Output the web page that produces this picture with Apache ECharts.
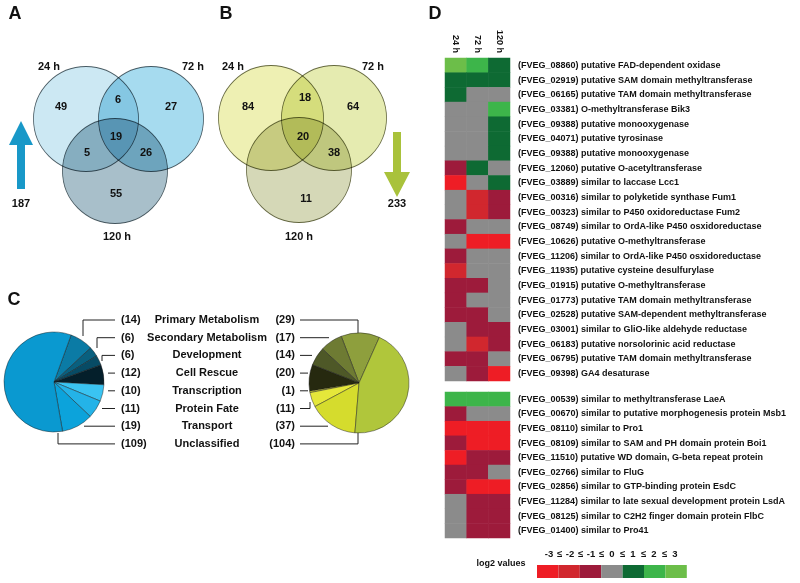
<!DOCTYPE html>
<html>
<head>
<meta charset="utf-8">
<script src="https://cdn.jsdelivr.net/npm/echarts@6/dist/echarts.min.js"></script>
<style>
html, body { margin: 0; padding: 0; background: #fff; }
#chart { width: 800px; height: 583px; }
</style>
</head>
<body>
<div id="chart"></div>
<script>
// ---- panel A / B : venn counts ----
const vennSets = ['24 h', '72 h', '120 h'];
const upRegions = ['24', '24&72', '72', '24&72&120', '24&120', '72&120', '120'];
const upCounts = [49, 6, 27, 19, 5, 26, 55];
const upTotal = 187;
const downRegions = ['24', '24&72', '72', '24&72&120', '72&120', '120'];
const downCounts = [84, 18, 64, 20, 38, 11];
const downTotal = 233;

// ---- panel C : functional categories ----
const categories = ['Primary Metabolism', 'Secondary Metabolism', 'Development', 'Cell Rescue',
    'Transcription', 'Protein Fate', 'Transport', 'Unclassified'];
const upCat = [14, 6, 6, 12, 10, 11, 19, 109];
const downCat = [29, 17, 14, 20, 1, 11, 37, 104];

// ---- panel D : heatmap ----
const timepoints = ['24 h', '72 h', '120 h'];
const smGenes = [
    '(FVEG_08860) putative FAD-dependent oxidase',
    '(FVEG_02919) putative SAM domain methyltransferase',
    '(FVEG_06165) putative TAM domain methyltransferase',
    '(FVEG_03381) O-methyltransferase Bik3',
    '(FVEG_09388) putative monooxygenase',
    '(FVEG_04071) putative tyrosinase',
    '(FVEG_09388) putative monooxygenase',
    '(FVEG_12060) putative O-acetyltransferase',
    '(FVEG_03889) similar to laccase Lcc1',
    '(FVEG_00316) similar to polyketide synthase Fum1',
    '(FVEG_00323) similar to P450 oxidoreductase Fum2',
    '(FVEG_08749) similar to OrdA-like P450 osxidoreductase',
    '(FVEG_10626) putative O-methyltransferase',
    '(FVEG_11206) similar to OrdA-like P450 osxidoreductase',
    '(FVEG_11935) putative cysteine desulfurylase',
    '(FVEG_01915) putative O-methyltransferase',
    '(FVEG_01773) putative TAM domain methyltransferase',
    '(FVEG_02528) putative SAM-dependent methyltransferase',
    '(FVEG_03001) similar to GliO-like aldehyde reductase',
    '(FVEG_06183) putative norsolorinic acid reductase',
    '(FVEG_06795) putative TAM domain methyltransferase',
    '(FVEG_09398) GA4 desaturase'
];
const smValues = [
    [3, 2, 1], [1, 1, 1], [1, 0, 0], [0, 0, 2], [0, 0, 1], [0, 0, 1], [0, 0, 1],
    [-1, 1, 0], [-3, 0, 1], [0, -2, -1], [0, -2, -1], [-1, 0, 0], [0, -3, -3],
    [-1, 0, 0], [-2, 0, 0], [-1, -1, 0], [-1, 0, 0], [-1, -1, 0], [0, -1, -1],
    [0, -2, -1], [-1, -1, 0], [0, -1, -3]
];
const devGenes = [
    '(FVEG_00539) similar to methyltransferase LaeA',
    '(FVEG_00670) similar to putative morphogenesis protein Msb1',
    '(FVEG_08110) similar to Pro1',
    '(FVEG_08109) similar to SAM and PH domain protein Boi1',
    '(FVEG_11510) putative WD domain, G-beta repeat protein',
    '(FVEG_02766) similar to FluG',
    '(FVEG_02856) similar to GTP-binding protein EsdC',
    '(FVEG_11284) similar to late sexual development protein LsdA',
    '(FVEG_08125) similar to C2H2 finger domain protein FlbC',
    '(FVEG_01400) similar to Pro41'
];
const devValues = [
    [2, 2, 2], [-1, 0, 0], [-3, -3, -3], [-1, -3, -3], [-3, -1, -1],
    [-1, -1, 0], [-1, -3, -3], [0, -1, -1], [0, -1, -1], [0, -1, -1]
];
const log2Levels = [-3, -2, -1, 0, 1, 2, 3];

// ---- styles / layout ----
const FONT = '"Liberation Sans", Arial, sans-serif';
const levelColors = ['#ee1d25', '#d1272e', '#9d1b3b', '#8b8b8b', '#0e6a33', '#3db54a', '#6cbe49'];
const upPieColors = ['#0b7ba5', '#09607f', '#074b65', '#041f2b', '#3ac4f2', '#24b3e8', '#0ca3db', '#0a99d0'];
const downPieColors = ['#8e9f3d', '#6e7b33', '#4e5827', '#26290f', '#ebec3f', '#e5e73a', '#d5dc2d', '#b0c63b'];
const vennA = {
    circles: [[86, 119], [151, 119], [115, 171]],
    colors: ['#cce8f3', '#a6dbef', '#a8bfca'],
    spots: { '24': [61, 107], '24&72': [118, 100], '72': [171, 107], '24&72&120': [116, 137],
             '24&120': [87, 153], '72&120': [146, 153], '120': [116, 194] },
    names: [[49, 67], [193, 67], [117, 237]],
    total: [21, 204]
};
const vennB = {
    circles: [[271, 118], [334, 118], [299, 170]],
    colors: ['#eef0b3', '#e5ebb0', '#d5d8b7'],
    spots: { '24': [248, 107], '24&72': [305, 98], '72': [353, 107], '24&72&120': [303, 137],
             '72&120': [334, 153], '120': [306, 199] },
    names: [[233, 67], [373, 67], [299, 237]],
    total: [397, 204]
};

function circleData(v) {
    return v.circles.map((c, i) => ({ value: c, itemStyle: { color: v.colors[i] } }));
}
function vennText(v, regions, counts, total) {
    const out = regions.map((r, i) => ({ name: String(counts[i]), value: v.spots[r] }));
    vennSets.forEach((s, i) => out.push({ name: s, value: v.names[i] }));
    out.push({ name: String(total), value: v.total });
    return out;
}
function pieData(values, colors) {
    return categories.map((c, i) => ({ name: c, value: values[i], itemStyle: { color: colors[i] } }));
}
function heatData(rows) {
    const d = [];
    rows.forEach((row, y) => row.forEach((val, x) => d.push([x, y, val])));
    return d;
}

const rowY = i => 320 + i * 17.7;
const leftLines = [
    [[115, rowY(0)], [83, rowY(0)], [83, 336]],
    [[115, rowY(1)], [97, rowY(1)], [97, 348]],
    [[115, rowY(2)], [102, rowY(2)], [102, 361]],
    [[108, rowY(3)], [115, rowY(3)]],
    [[108, rowY(4)], [115, rowY(4)]],
    [[102, rowY(5)], [115, rowY(5)]],
    [[84, rowY(6)], [115, rowY(6)]],
    [[115, rowY(7)], [58, rowY(7)], [58, 433]]
];
const rightLines = [
    [[300, rowY(0)], [358, rowY(0)], [358, 334]],
    [[300, rowY(1)], [329, rowY(1)]],
    [[300, rowY(2)], [312, rowY(2)]],
    [[300, rowY(3)], [308, rowY(3)]],
    [[300, rowY(4)], [308, rowY(4)]],
    [[300, rowY(5)], [310, rowY(5)], [310, 402]],
    [[300, rowY(6)], [328, rowY(6)]],
    [[300, rowY(7)], [358, rowY(7)], [358, 433]]
];

function txt(text, x, y, size, align) {
    return {
        type: 'text', silent: true,
        style: { text: text, x: x, y: y, fill: '#111', font: 'bold ' + size + 'px ' + FONT,
                 textAlign: align || 'center', textVerticalAlign: 'middle' }
    };
}

const graphics = [];
graphics.push(txt('A', 15, 14, 18), txt('B', 226, 14, 18), txt('C', 14, 300, 18), txt('D', 435, 14, 18));
// arrows
graphics.push({
    type: 'polygon', silent: true,
    shape: { points: [[21, 121], [33, 145], [25, 145], [25, 189], [17, 189], [17, 145], [9, 145]] },
    style: { fill: '#1898c8' }
});
graphics.push({
    type: 'polygon', silent: true,
    shape: { points: [[397, 197], [410, 172], [401, 172], [401, 132], [393, 132], [393, 172], [384, 172]] },
    style: { fill: '#a9c23b' }
});
// panel C labels + leader lines
categories.forEach((c, i) => {
    const y = rowY(i);
    graphics.push(txt(c, 207, y, 11));
    graphics.push(txt('(' + upCat[i] + ')', 121, y, 11, 'left'));
    graphics.push(txt('(' + downCat[i] + ')', 295, y, 11, 'right'));
    graphics.push({ type: 'polyline', silent: true, shape: { points: leftLines[i] },
                    style: { stroke: '#222', lineWidth: 1, fill: null } });
    graphics.push({ type: 'polyline', silent: true, shape: { points: rightLines[i] },
                    style: { stroke: '#222', lineWidth: 1, fill: null } });
});
// heatmap legend text
graphics.push(txt('log2 values', 501, 564, 9));
const legendTokens = [];
log2Levels.forEach((v, i) => {
    legendTokens.push(String(v));
    if (i < log2Levels.length - 1) legendTokens.push('\u2264');
});
legendTokens.forEach((t, i) => graphics.push(txt(t, 549 + i * 10.5, 554, 9.5)));

const chart = echarts.init(document.getElementById('chart'));
const option = {
    animation: false,
    backgroundColor: '#fff',
    grid: [
        { left: 0, top: 0, width: 800, height: 583, show: false, outerBoundsMode: 'none' },
        { left: 445, top: 58, width: 65, height: 323, show: false, outerBoundsMode: 'none' },
        { left: 445, top: 392, width: 65, height: 146, show: false, outerBoundsMode: 'none' }
    ],
    xAxis: [
        { gridIndex: 0, type: 'value', min: 0, max: 800, show: false },
        {
            gridIndex: 1, type: 'category', data: timepoints, position: 'top',
            axisLine: { show: false }, axisTick: { show: false }, splitLine: { show: false },
            axisLabel: { rotate: 90, margin: 5, fontSize: 9, fontWeight: 'bold', color: '#111', fontFamily: FONT }
        },
        { gridIndex: 2, type: 'category', data: timepoints, show: false }
    ],
    yAxis: [
        { gridIndex: 0, type: 'value', min: 0, max: 583, inverse: true, show: false },
        {
            gridIndex: 1, type: 'category', data: smGenes, inverse: true, position: 'right',
            axisLine: { show: false }, axisTick: { show: false }, splitLine: { show: false },
            axisLabel: { interval: 0, margin: 8, fontSize: 9, fontWeight: 'bold', color: '#111', fontFamily: FONT }
        },
        {
            gridIndex: 2, type: 'category', data: devGenes, inverse: true, position: 'right',
            axisLine: { show: false }, axisTick: { show: false }, splitLine: { show: false },
            axisLabel: { interval: 0, margin: 8, fontSize: 9, fontWeight: 'bold', color: '#111', fontFamily: FONT }
        }
    ],
    visualMap: {
        type: 'piecewise', seriesIndex: [5, 6],
        pieces: log2Levels.map((v, i) => ({ value: v, color: levelColors[i] })),
        orient: 'horizontal', left: 537, top: 565, padding: 0,
        itemWidth: 21.4, itemHeight: 13, itemGap: 0, itemSymbol: 'rect',
        showLabel: false, selectedMode: false, hoverLink: false
    },
    series: [
        {
            type: 'scatter', xAxisIndex: 0, yAxisIndex: 0, silent: true, blendMode: 'multiply',
            symbolSize: 105, data: circleData(vennA),
            itemStyle: { borderColor: '#4f5f66', borderWidth: 0.8, opacity: 1 }
        },
        {
            type: 'scatter', xAxisIndex: 0, yAxisIndex: 0, silent: true, blendMode: 'multiply',
            symbolSize: 105, data: circleData(vennB),
            itemStyle: { borderColor: '#6a6d48', borderWidth: 0.8, opacity: 1 }
        },
        {
            type: 'scatter', xAxisIndex: 0, yAxisIndex: 0, silent: true, symbolSize: 1,
            itemStyle: { color: 'rgba(0,0,0,0)', opacity: 1 },
            label: { show: true, position: 'inside', formatter: '{b}', fontSize: 11, fontWeight: 'bold',
                     color: '#111', opacity: 1, textBorderWidth: 0, textBorderColor: 'transparent', fontFamily: FONT },
            data: vennText(vennA, upRegions, upCounts, upTotal).concat(vennText(vennB, downRegions, downCounts, downTotal))
        },
        {
            type: 'pie', center: [54, 382], radius: 50, startAngle: 70, clockwise: true, silent: true,
            label: { show: false }, labelLine: { show: false },
            itemStyle: { borderColor: 'rgba(25,25,25,0.75)', borderWidth: 0.6 },
            data: pieData(upCat, upPieColors)
        },
        {
            type: 'pie', center: [359, 383], radius: 50, startAngle: 66, clockwise: false, silent: true,
            label: { show: false }, labelLine: { show: false },
            itemStyle: { borderColor: 'rgba(25,25,25,0.75)', borderWidth: 0.6 },
            data: pieData(downCat, downPieColors)
        },
        {
            type: 'heatmap', xAxisIndex: 1, yAxisIndex: 1, silent: true,
            data: heatData(smValues), itemStyle: { borderWidth: 0 }
        },
        {
            type: 'heatmap', xAxisIndex: 2, yAxisIndex: 2, silent: true,
            data: heatData(devValues), itemStyle: { borderWidth: 0 }
        }
    ],
    graphic: graphics
};
chart.setOption(option);
</script>
</body>
</html>
